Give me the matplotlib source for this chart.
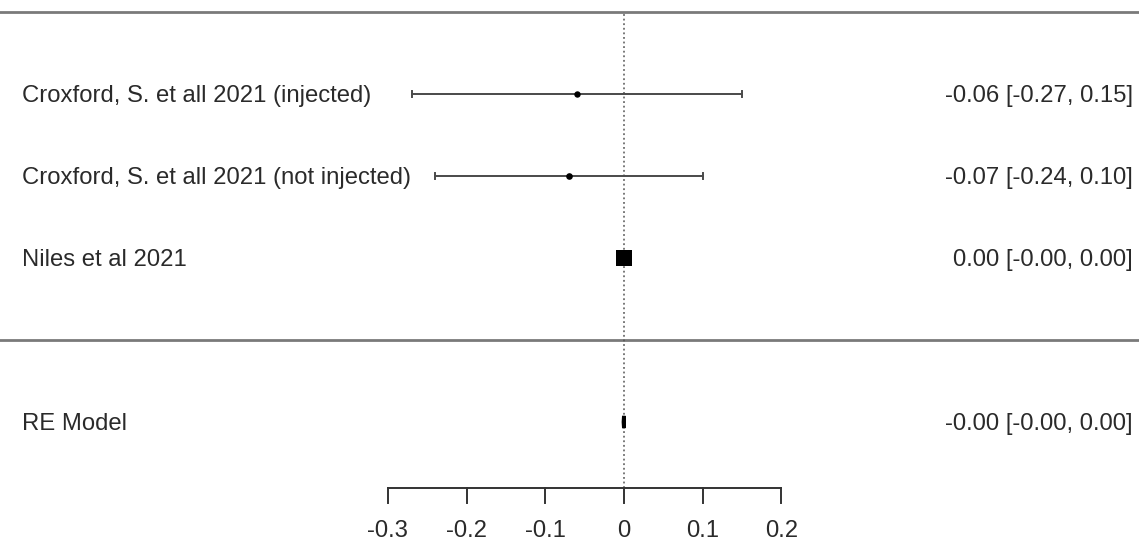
import numpy as np
import matplotlib
matplotlib.use("Agg")
import matplotlib.pyplot as plt
from matplotlib.patches import Polygon

plt.rcParams['font.family'] = ['Liberation Sans', 'DejaVu Sans']

# study level estimates with 95% CI
studies = ['Croxford, S. et all 2021 (injected)',
           'Croxford, S. et all 2021 (not injected)',
           'Niles et al 2021']
est = [-0.06, -0.07, 0.0004]
ci_lo = [-0.27, -0.24, -0.0004]
ci_hi = [0.15, 0.10, 0.0004]
weights = [0.6, 1.0, 98.4]

# pooled random effects estimate
re_label = 'RE Model'
re_est = -0.0003
re_lo = -0.0008
re_hi = 0.0002

xticks = [-0.3, -0.2, -0.1, 0, 0.1, 0.2]
xticklabels = ['-0.3', '-0.2', '-0.1', '0', '0.1', '0.2']

W, H = 1139, 544
fig = plt.figure(figsize=(W / 100, H / 100), dpi=100)
ax = fig.add_axes([0, 0, 1, 1])
ax.axis('off')

# pixel -> data mapping (0 at px 624, 0.1 per 78.7 px; one row per 82 px)
def px2x(px):
    return (px - 624) / 787.0

def py2y(py):
    return 1 + (258 - py) / 82.0

ax.set_xlim(px2x(0), px2x(W))
ax.set_ylim(py2y(H), py2y(0))

k = len(studies)
rows = np.arange(k, 0, -1)
re_row = -1
axis_y = py2y(488)

hl_col = '#7a7a7a'
ax.axhline(k + 1, color=hl_col, lw=2)
ax.axhline(0, color=hl_col, lw=2)

# reference line at zero
ax.plot([0, 0], [axis_y, k + 1], color='#555555', lw=1.1, ls=(0, (1.2, 1.8)))

fs = 17.2
tc = '#2a2a2a'
x_left = px2x(22)
x_right = px2x(1133)
dy = -0.025  # nudge text onto the row line
sw = np.sqrt(np.array(weights) / max(weights))
for r, lab, e, lo, hi, s in zip(rows, studies, est, ci_lo, ci_hi, sw):
    ax.plot([lo, hi], [r, r], color='#4a4a4a', lw=1.4)
    ax.plot([lo, lo], [r - 0.04, r + 0.04], color='#4a4a4a', lw=1.4)
    ax.plot([hi, hi], [r - 0.04, r + 0.04], color='#4a4a4a', lw=1.4)
    ax.plot(e, r, marker='s' if s > 0.5 else 'o', color='black',
            markersize=4 + 7.8 * s, markeredgewidth=0, zorder=5)
    ax.text(x_left, r + dy, lab, ha='left', va='center', fontsize=fs, color=tc)
    ax.text(x_right, r + dy, '%.2f [%.2f, %.2f]' % (e, lo, hi), ha='right',
            va='center', fontsize=fs, color=tc)

# summary diamond
dh = 0.075
ax.add_patch(Polygon([[re_lo, re_row], [re_est, re_row + dh],
                      [re_hi, re_row], [re_est, re_row - dh]],
                     closed=True, facecolor='black', edgecolor='black',
                     lw=2.5, joinstyle='miter', zorder=5))
ax.text(x_left, re_row + dy, re_label, ha='left', va='center', fontsize=fs, color=tc)
ax.text(x_right, re_row + dy, '%.2f [%.2f, %.2f]' % (re_est, re_lo, re_hi),
        ha='right', va='center', fontsize=fs, color=tc)

# x axis
ax.plot([xticks[0], xticks[-1]], [axis_y, axis_y], color='#333333', lw=1.4)
tick_len = 15 / 82.0
for t, tl in zip(xticks, xticklabels):
    ax.plot([t, t], [axis_y, axis_y - tick_len], color='#333333', lw=1.4)
    ax.text(t, py2y(531), tl, ha='center', va='center', fontsize=fs, color=tc)

fig.savefig('out.png', dpi=100)
